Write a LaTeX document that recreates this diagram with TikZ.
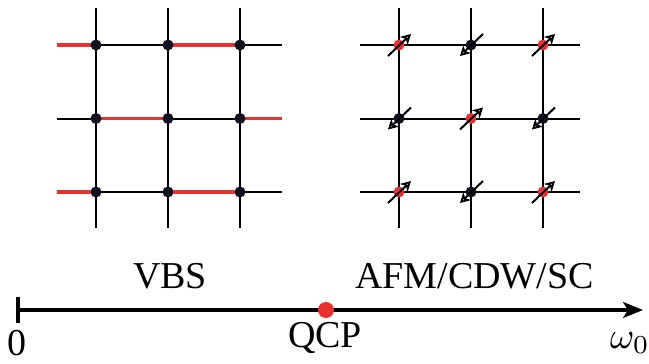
\documentclass[tikz,border=0pt]{standalone}
\usepackage{fontspec}
\setmainfont{Liberation Serif}
\usetikzlibrary{matrix, backgrounds, arrows.meta}
\definecolor{bondred}{RGB}{232,50,50}
\definecolor{sitedark}{RGB}{18,18,32}

\begin{document}
\begin{tikzpicture}[x=1pt, y=-1pt,
lattice/.style={line width=2pt},
bond/.style={line width=3.4pt, bondred},
site/.style={circle, fill=sitedark, inner sep=0pt, minimum size=11pt},
upsite/.style={site, fill=bondred},
spin/.style={line width=2pt, -{Stealth[open, length=10pt, width=11pt, inset=3pt]}},
phase/.style={font=\fontsize{38}{42}\selectfont, inner sep=0pt, anchor=base},
axis/.style={line width=3.4pt}
]
\useasboundingbox (0,0) rectangle (649,364);

% VBS lattice
\matrix[matrix of nodes, nodes in empty cells,
column sep=61pt, row sep=62.5pt,
nodes={site}
] (vbs) at (168,118.5) {
  & & \\
  & & \\
  & & \\
};

% AFM lattice
\matrix[matrix of nodes, nodes in empty cells,
column sep=61pt, row sep=62.5pt,
nodes={site}
] (afm) at (471,118.5) {
|[upsite]| &            & |[upsite]| \\
           & |[upsite]| &            \\
|[upsite]| &            & |[upsite]| \\
};

\begin{scope}[on background layer]
\foreach \i in {1,2,3} {
  \draw[lattice] ([yshift=37pt]vbs-1-\i.center) -- ([yshift=-36pt]vbs-3-\i.center);
  \draw[lattice] ([xshift=-39pt]vbs-\i-1.center) -- ([xshift=42pt]vbs-\i-3.center);
  \draw[lattice] ([yshift=37pt]afm-1-\i.center) -- ([yshift=-36pt]afm-3-\i.center);
  \draw[lattice] ([xshift=-39pt]afm-\i-1.center) -- ([xshift=37pt]afm-\i-3.center);
}
% valence bonds
\foreach \i in {1,3} {
  \draw[bond] ([xshift=-39pt]vbs-\i-1.center) -- (vbs-\i-1.center);
  \draw[bond] (vbs-\i-2.center) -- (vbs-\i-3.center);
}
\draw[bond] (vbs-2-1.center) -- (vbs-2-2.center);
\draw[bond] (vbs-2-3.center) -- ([xshift=42pt]vbs-2-3.center);
\end{scope}

% spins
\foreach \i/\j in {1/1,1/3,2/2,3/1,3/3}
  \draw[spin] ([shift={(-11,11)}]afm-\i-\j.center) -- ([shift={(12,-11)}]afm-\i-\j.center);
\foreach \i/\j in {1/2,2/1,2/3,3/2}
  \draw[spin] ([shift={(12,-11)}]afm-\i-\j.center) -- ([shift={(-11,11)}]afm-\i-\j.center);

% phase axis
\coordinate (zero) at (18,310);
\coordinate (tip) at (643,310);
\draw[axis, -{Stealth[length=20pt, width=16pt, inset=5pt]}] (zero) -- (tip);
\draw[axis] ([yshift=13pt]zero) -- ([yshift=-13pt]zero);
\node[circle, fill=bondred, inner sep=0pt, minimum size=16pt] (qcp) at (326,310) {};

\node[phase] (vbstext) at (170,288) {VBS};
\node[phase] (afmtext) at (474.5,288) {AFM/CDW/SC};
\node[phase] (zerotext) at (17,355) {0};
\node[phase] (qcptext) at (325,347) {QCP};
\node[inner sep=0pt, anchor=base west] (omegatext) at (610,348) {\scalebox{3.7}{$\omega_0$}};
\end{tikzpicture}
\end{document}
